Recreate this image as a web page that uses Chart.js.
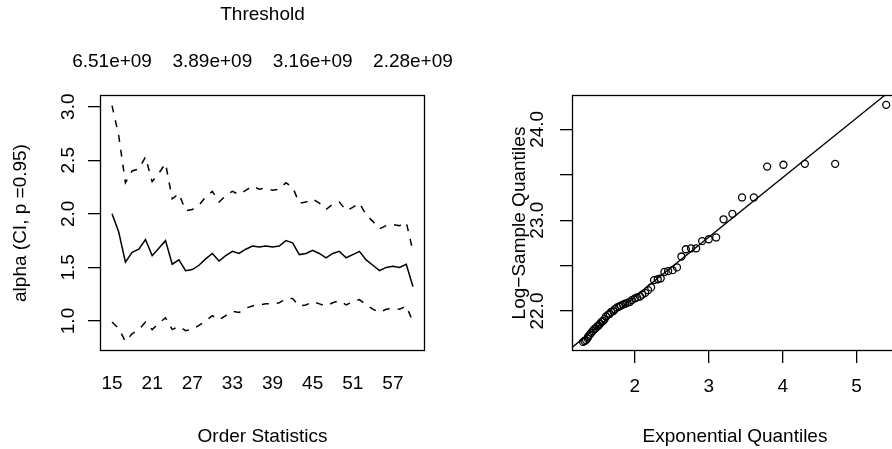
<!DOCTYPE html>
<html>
<head>
<meta charset="utf-8">
<title>Hill plot and exponential QQ plot</title>
<script src="https://cdn.jsdelivr.net/npm/chart.js@4/dist/chart.umd.min.js"></script>
<style>
    html, body { margin: 0; padding: 0; background: #ffffff; overflow: hidden; }
    #wrap { position: relative; width: 892px; height: 449px; overflow: hidden; }
    #hill-canvas { position: absolute; left: 0; top: 0; }
    #qq-canvas { position: absolute; left: 446px; top: 0; }
</style>
</head>
<body>
<div id="wrap">
    <canvas id="hill-canvas" width="470" height="449"></canvas>
    <canvas id="qq-canvas" width="480" height="449"></canvas>
</div>
<script>
// left panel: alpha estimate with CI against number of order statistics
var orderStats = [15, 16, 17, 18, 19, 20, 21, 22, 23, 24, 25, 26, 27, 28, 29, 30,
    31, 32, 33, 34, 35, 36, 37, 38, 39, 40, 41, 42, 43, 44, 45, 46,
    47, 48, 49, 50, 51, 52, 53, 54, 55, 56, 57, 58, 59, 60];
var alphaHat = [2.00, 1.83, 1.55, 1.64, 1.67, 1.76, 1.61, 1.68, 1.75, 1.53, 1.57, 1.47, 1.48, 1.52, 1.58, 1.63,
    1.56, 1.61, 1.65, 1.63, 1.67, 1.70, 1.69, 1.70, 1.69, 1.70, 1.75, 1.73, 1.62, 1.63, 1.66, 1.63,
    1.59, 1.63, 1.65, 1.59, 1.62, 1.65, 1.57, 1.52, 1.47, 1.50, 1.51, 1.50, 1.53, 1.32];
var alphaUpper = [3.01, 2.73, 2.29, 2.40, 2.42, 2.53, 2.30, 2.38, 2.47, 2.14, 2.19, 2.03, 2.04, 2.08, 2.16, 2.21,
    2.11, 2.17, 2.21, 2.18, 2.22, 2.26, 2.23, 2.24, 2.22, 2.23, 2.29, 2.25, 2.10, 2.11, 2.14, 2.10,
    2.04, 2.09, 2.11, 2.03, 2.06, 2.10, 1.99, 1.93, 1.86, 1.89, 1.90, 1.89, 1.92, 1.65];
var alphaLower = [0.99, 0.93, 0.81, 0.88, 0.92, 0.99, 0.92, 0.98, 1.03, 0.92, 0.95, 0.91, 0.92, 0.96, 1.00, 1.05,
    1.01, 1.05, 1.09, 1.08, 1.12, 1.14, 1.15, 1.16, 1.16, 1.17, 1.21, 1.21, 1.14, 1.15, 1.18, 1.16,
    1.14, 1.17, 1.19, 1.15, 1.18, 1.20, 1.15, 1.11, 1.08, 1.11, 1.12, 1.11, 1.14, 0.99];
var orderTicks = [15, 21, 27, 33, 39, 45, 51, 57];
var alphaTicks = [1.0, 1.5, 2.0, 2.5, 3.0];
var thresholdAt = [15, 30, 45, 60];
var thresholdLabels = ['6.51e+09', '3.89e+09', '3.16e+09', '2.28e+09'];

// right panel: exponential QQ plot of the log sample
var expQuantiles = [5.40, 4.71, 4.30, 4.01, 3.79, 3.61, 3.45, 3.32, 3.20, 3.10,
    3.00, 2.91, 2.83, 2.76, 2.69, 2.63, 2.57, 2.51, 2.45, 2.40,
    2.35, 2.31, 2.26, 2.22, 2.18, 2.14, 2.10, 2.07, 2.03, 2.00,
    1.96, 1.93, 1.90, 1.87, 1.84, 1.81, 1.79, 1.76, 1.73, 1.71,
    1.68, 1.66, 1.64, 1.61, 1.59, 1.57, 1.55, 1.53, 1.51, 1.49,
    1.47, 1.45, 1.43, 1.41, 1.39, 1.37, 1.36, 1.34, 1.32, 1.30];
var logSampleQuantiles = [24.27, 23.62, 23.62, 23.61, 23.59, 23.25, 23.25, 23.07, 23.01, 22.81,
    22.79, 22.77, 22.69, 22.69, 22.68, 22.60, 22.48, 22.45, 22.44, 22.43,
    22.36, 22.35, 22.34, 22.26, 22.23, 22.20, 22.18, 22.16, 22.15, 22.14,
    22.12, 22.10, 22.09, 22.08, 22.07, 22.06, 22.05, 22.04, 22.02, 22.00,
    21.99, 21.97, 21.96, 21.94, 21.91, 21.89, 21.88, 21.86, 21.84, 21.83,
    21.81, 21.80, 21.78, 21.76, 21.74, 21.72, 21.70, 21.68, 21.67, 21.66];
var expTicks = [2, 3, 4, 5];
var logTicks = [22.0, 22.5, 23.0, 23.5, 24.0];
var logTickLabels = ['22.0', '', '23.0', '', '24.0'];
var fitIntercept = 20.845;
var fitSlope = 0.656;

Chart.defaults.font.family = '"Liberation Sans", Arial, Helvetica, sans-serif';
Chart.defaults.font.size = 19;
Chart.defaults.color = '#000000';

// draws the R style box round the plot region
var boxPlugin = {
    id: 'plotBox',
    afterDraw: function(chart) {
        var a = chart.chartArea;
        var ctx = chart.ctx;
        ctx.save();
        ctx.strokeStyle = '#000000';
        ctx.lineWidth = 1.3;
        ctx.strokeRect(Math.round(a.left) + 0.5, Math.round(a.top) + 0.5,
            Math.round(a.right - a.left) - 1, Math.round(a.bottom - a.top) - 1);
        ctx.restore();
    }
};

function fixedSize(size) {
    return function(scale) {
        if (scale.isHorizontal()) {
            scale.height = size;
        } else {
            scale.width = size;
        }
        scale.paddingLeft = 0;
        scale.paddingRight = 0;
        scale.paddingTop = 0;
        scale.paddingBottom = 0;
    };
}

function setTicks(values) {
    return function(scale) {
        scale.ticks = values.map(function(v) { return { value: v }; });
    };
}

function toPoints(xs, ys) {
    return xs.map(function(x, i) { return { x: x, y: ys[i] }; });
}

var tickGrid = function(len) {
    return { display: true, drawOnChartArea: false, drawTicks: true, tickLength: len, color: '#000000', lineWidth: 1.3 };
};
var noGrid = { display: false, drawTicks: false };

new Chart(document.getElementById('hill-canvas').getContext('2d'), {
    type: 'line',
    data: {
        datasets: [{
            data: toPoints(orderStats, alphaUpper),
            borderColor: '#000000', borderWidth: 1.5, borderDash: [7, 8], pointRadius: 0, tension: 0
        }, {
            data: toPoints(orderStats, alphaHat),
            borderColor: '#000000', borderWidth: 1.5, pointRadius: 0, tension: 0
        }, {
            data: toPoints(orderStats, alphaLower),
            borderColor: '#000000', borderWidth: 1.5, borderDash: [7, 8], pointRadius: 0, tension: 0
        }]
    },
    options: {
        responsive: false,
        animation: false,
        layout: { padding: { left: 0, right: 45, top: 0, bottom: 0 } },
        plugins: { legend: { display: false }, tooltip: { enabled: false } },
        scales: {
            x: {
                type: 'linear', position: 'bottom', min: 13.2, max: 61.8,
                afterBuildTicks: setTicks(orderTicks),
                afterFit: fixedSize(98),
                grid: noGrid, border: { display: false },
                ticks: { autoSkip: false, maxRotation: 0, minRotation: 0, padding: 21,
                    callback: function(v) { return String(v); } },
                title: { display: true, text: 'Order Statistics', padding: { top: 0, bottom: 1 } }
            },
            x2: {
                type: 'linear', position: 'top', min: 13.2, max: 61.8,
                afterBuildTicks: setTicks(thresholdAt),
                afterFit: fixedSize(95),
                grid: noGrid, border: { display: false },
                ticks: { autoSkip: false, maxRotation: 0, minRotation: 0, padding: 22,
                    callback: function(v) { return thresholdLabels[thresholdAt.indexOf(v)]; } },
                title: { display: true, text: 'Threshold', padding: { top: 3, bottom: 0 } }
            },
            y: {
                type: 'linear', position: 'left', min: 0.72, max: 3.109,
                afterBuildTicks: setTicks(alphaTicks),
                afterFit: fixedSize(100),
                grid: tickGrid(12), border: { display: false },
                ticks: { autoSkip: false, minRotation: 90, maxRotation: 90, crossAlign: 'center', padding: 6,
                    callback: function(v) { return v.toFixed(1); } },
                title: { display: true, text: 'alpha (CI, p =0.95)', padding: { top: 9, bottom: 0 } }
            }
        }
    },
    plugins: [boxPlugin]
});

var xMin = 1.15, xMax = 5.56;

new Chart(document.getElementById('qq-canvas').getContext('2d'), {
    type: 'scatter',
    data: {
        datasets: [{
            data: toPoints(expQuantiles, logSampleQuantiles),
            pointStyle: 'circle', pointRadius: 3.5, pointBorderWidth: 1.3,
            borderColor: '#000000', backgroundColor: 'rgba(0,0,0,0)'
        }, {
            type: 'line',
            data: [{ x: xMin, y: fitIntercept + fitSlope * xMin }, { x: xMax, y: fitIntercept + fitSlope * xMax }],
            borderColor: '#000000', borderWidth: 1.3, pointRadius: 0, tension: 0
        }]
    },
    options: {
        responsive: false,
        animation: false,
        layout: { padding: { left: 0, right: 28, top: 95, bottom: 0 } },
        plugins: { legend: { display: false }, tooltip: { enabled: false } },
        scales: {
            x: {
                type: 'linear', position: 'bottom', min: xMin, max: xMax,
                afterBuildTicks: setTicks(expTicks),
                afterFit: fixedSize(98),
                grid: tickGrid(12), border: { display: false },
                ticks: { autoSkip: false, maxRotation: 0, minRotation: 0, padding: 12,
                    callback: function(v) { return String(v); } },
                title: { display: true, text: 'Exponential Quantiles', padding: { top: 0, bottom: 1 } }
            },
            y: {
                type: 'linear', position: 'left', min: 21.56, max: 24.378,
                afterBuildTicks: setTicks(logTicks),
                afterFit: fixedSize(126),
                grid: tickGrid(12), border: { display: false },
                ticks: { autoSkip: false, minRotation: 90, maxRotation: 90, crossAlign: 'center', padding: 4,
                    callback: function(v) { return logTickLabels[logTicks.indexOf(v)]; } },
                title: { display: true, text: 'Log\u2212Sample Quantiles', padding: { top: 62, bottom: 0 } }
            }
        }
    },
    plugins: [boxPlugin]
});
</script>
</body>
</html>
